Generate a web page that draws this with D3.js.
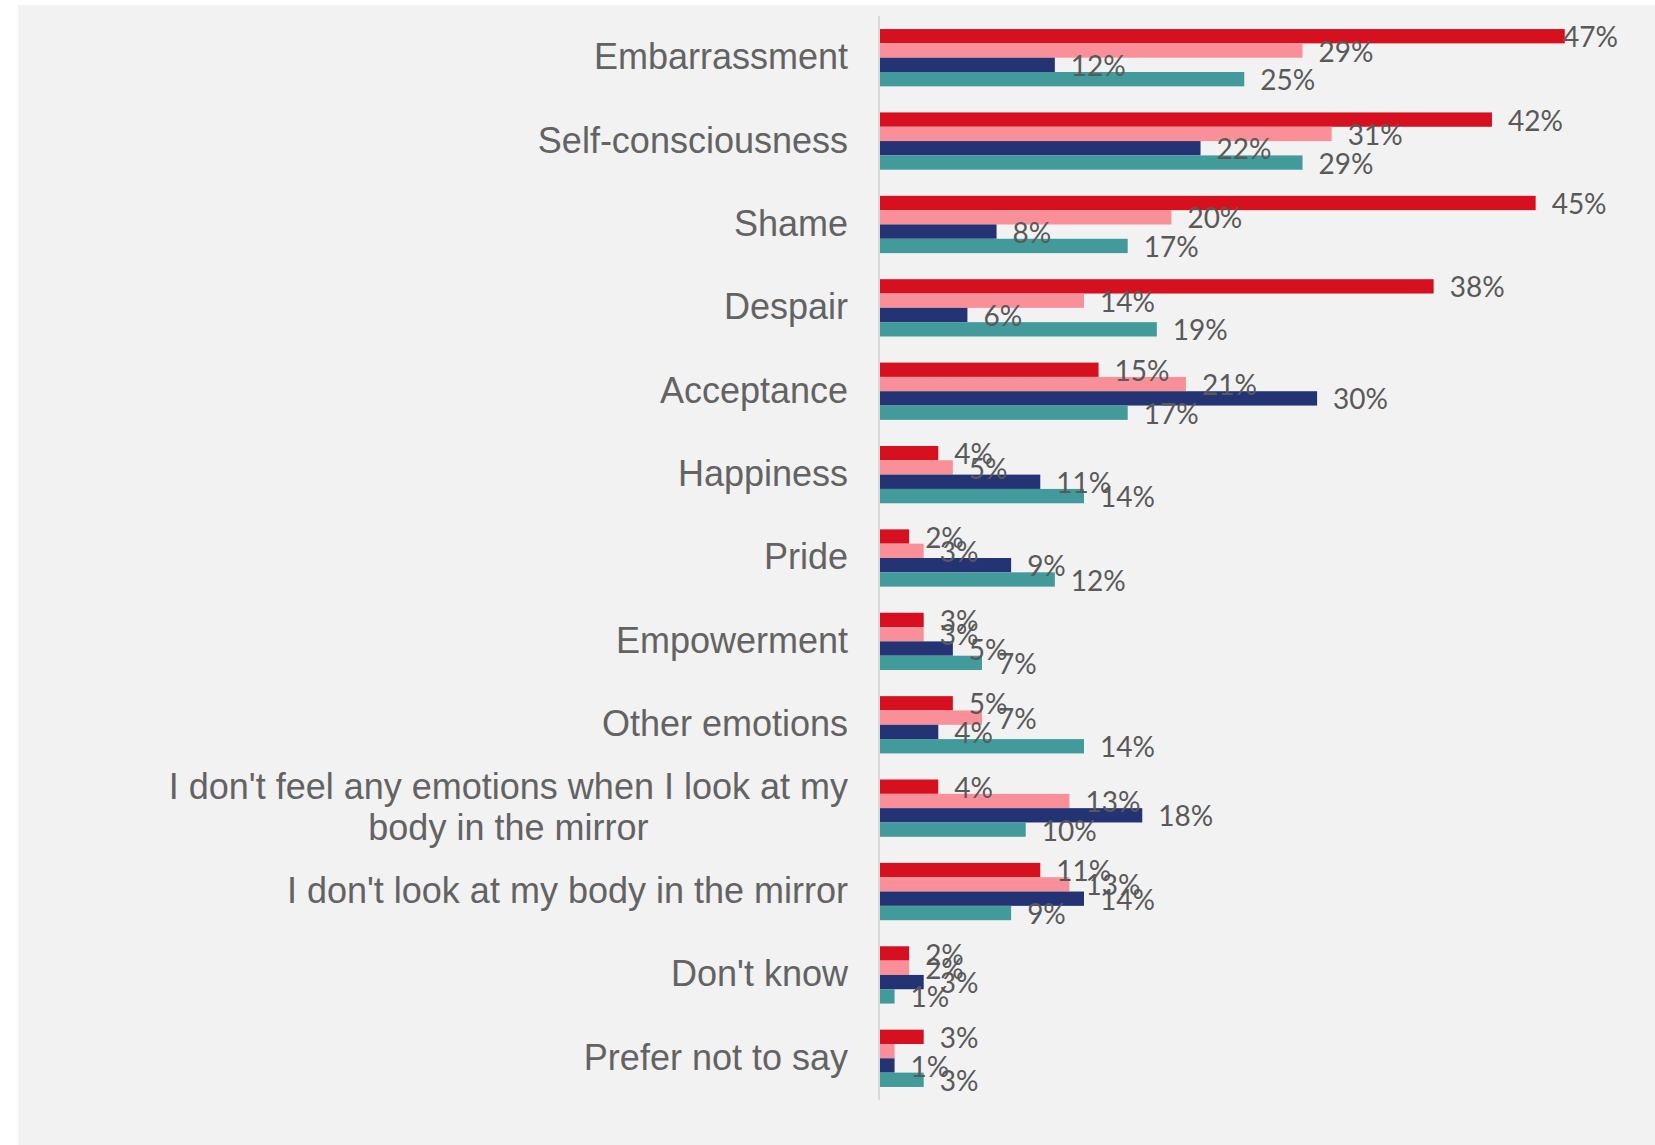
<!DOCTYPE html>
<html>
<head>
<meta charset="utf-8">
<script src="https://cdn.jsdelivr.net/npm/d3@7"></script>
<style>
  html, body { margin: 0; padding: 0; background: #ffffff; }
  svg { display: block; }
</style>
</head>
<body>
<svg id="chart" width="1655" height="1145"></svg>
<script>
// ---- data ----
const categories = [
  "Embarrassment",
  "Self-consciousness",
  "Shame",
  "Despair",
  "Acceptance",
  "Happiness",
  "Pride",
  "Empowerment",
  "Other emotions",
  "I don't feel any emotions when I look at my body in the mirror",
  "I don't look at my body in the mirror",
  "Don't know",
  "Prefer not to say"
];
const categoryLines = [
  ["Embarrassment"],
  ["Self-consciousness"],
  ["Shame"],
  ["Despair"],
  ["Acceptance"],
  ["Happiness"],
  ["Pride"],
  ["Empowerment"],
  ["Other emotions"],
  ["I don't feel any emotions when I look at my", "body in the mirror"],
  ["I don't look at my body in the mirror"],
  ["Don't know"],
  ["Prefer not to say"]
];
const seriesNames = ["Series 1", "Series 2", "Series 3", "Series 4"];
const series1 = [47, 42, 45, 38, 15, 4, 2, 3, 5, 4, 11, 2, 3];
const series2 = [29, 31, 20, 14, 21, 5, 3, 3, 7, 13, 13, 2, 1];
const series3 = [12, 22, 8, 6, 30, 11, 9, 5, 4, 18, 14, 3, 1];
const series4 = [25, 29, 17, 19, 17, 14, 12, 7, 14, 10, 9, 1, 3];
const seriesColors = ["#d7101f", "#f98f98", "#243373", "#429a9a"];
// data labels not shown in the reference: [category index, series index]
const hiddenLabels = [[12, 1]];

const allSeries = [series1, series2, series3, series4];

// ---- layout ----
const svg = d3.select("#chart");
svg.append("rect").attr("x", 18).attr("y", 5).attr("width", 1655 - 18).attr("height", 1145 - 5)
  .attr("fill", "#f2f2f2");

const plotTop = 16, plotBottom = 1100, plotLeft = 880;
const x = d3.scaleLinear().domain([0, 50]).range([plotLeft, plotLeft + 50 * 14.57]);
const y = d3.scaleBand().domain(categories).range([plotTop, plotBottom]).paddingInner(0.313).paddingOuter(0.1565);
const ySub = d3.scaleBand().domain(seriesNames).range([0, y.bandwidth()]).padding(0);

// bars
const groups = svg.append("g").selectAll("g.cat")
  .data(categories)
  .join("g")
  .attr("class", "cat")
  .attr("transform", d => `translate(0,${y(d)})`);

groups.each(function(cat, ci) {
  const g = d3.select(this);
  seriesNames.forEach((s, si) => {
    const v = allSeries[si][ci];
    g.append("rect")
      .attr("x", x(0))
      .attr("y", ySub(s))
      .attr("width", x(v) - x(0))
      .attr("height", ySub.bandwidth())
      .attr("fill", seriesColors[si]);
  });
});

// axis line (category axis)
svg.append("line")
  .attr("x1", plotLeft - 1).attr("x2", plotLeft - 1)
  .attr("y1", plotTop).attr("y2", plotBottom)
  .attr("stroke", "#d9d9d9").attr("stroke-width", 2);

// data labels
const labelLimit = 1618;
const labelsG = svg.append("g");
categories.forEach((cat, ci) => {
  seriesNames.forEach((s, si) => {
    if (hiddenLabels.some(h => h[0] === ci && h[1] === si)) return;
    const v = allSeries[si][ci];
    const cy = y(cat) + ySub(s) + ySub.bandwidth() / 2 + 1;
    const t = labelsG.append("text")
      .attr("x", x(v) + 16)
      .attr("y", cy)
      .attr("dy", "0.36em")
      .attr("font-family", "Lato, 'Open Sans', sans-serif")
      .attr("font-size", 28)
      .attr("fill", "#595959")
      .text(v + "%");
    const w = t.node().getComputedTextLength();
    if (x(v) + 16 + w > labelLimit) t.attr("x", labelLimit - w);
  });
});

// category labels
const catG = svg.append("g");
categories.forEach((cat, ci) => {
  const lines = categoryLines[ci];
  const cy = y(cat) + y.bandwidth() / 2 - 1.5;
  const lh = 41;
  const t = catG.append("text")
    .attr("font-family", "'Liberation Sans', Arial, sans-serif")
    .attr("font-size", 36)
    .attr("fill", "#636363");
  if (lines.length === 1) {
    t.attr("x", 848).attr("y", cy).attr("dy", "0.36em").attr("text-anchor", "end").text(lines[0]);
  } else {
    const tmp = catG.append("text").attr("font-family", "'Liberation Sans', Arial, sans-serif")
      .attr("font-size", 36).text(lines[0]);
    const w0 = tmp.node().getComputedTextLength();
    tmp.remove();
    const cx = 848 - w0 / 2;
    lines.forEach((ln, li) => {
      t.append("tspan")
        .attr("x", cx)
        .attr("y", cy + (li - (lines.length - 1) / 2) * lh)
        .attr("dy", "0.36em")
        .attr("text-anchor", "middle")
        .text(ln);
    });
  }
});
</script>
</body>
</html>
